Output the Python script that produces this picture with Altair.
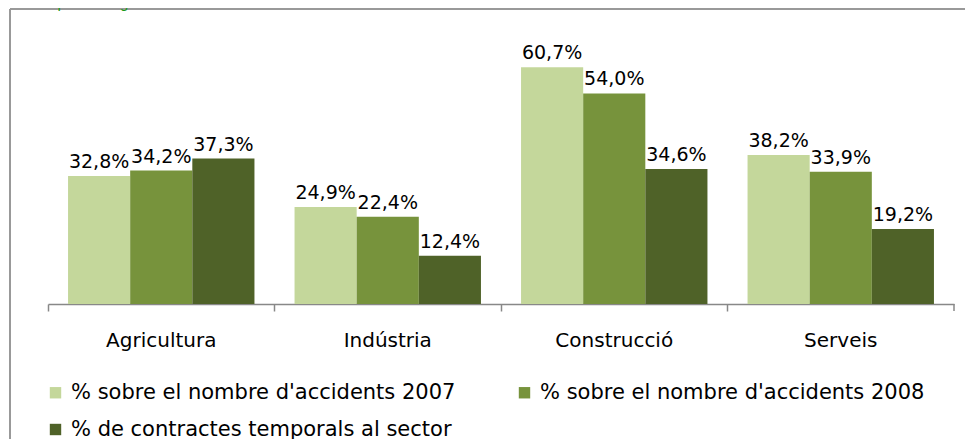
import altair as alt
import pandas as pd

categories = ["Agricultura", "Indústria", "Construcció", "Serveis"]
series = [
    "% sobre el nombre d'accidents 2007",
    "% sobre el nombre d'accidents 2008",
    "% de contractes temporals al sector",
]
v2007 = [32.8, 24.9, 60.7, 38.2]
v2008 = [34.2, 22.4, 54.0, 33.9]
vtemp = [37.3, 12.4, 34.6, 19.2]
colors = ["#c4d79b", "#77933c", "#4f6228"]
title_text = "Unitat: percentatges."

rows = []
for s, vals in zip(series, [v2007, v2008, vtemp]):
    for c, v in zip(categories, vals):
        rows.append({"cat": c, "serie": s, "val": v,
                     "lab": f"{v:.1f}".replace(".", ",") + "%"})
df = pd.DataFrame(rows)

W, H = 906, 273
FONT = "DejaVu Sans"

x_enc = alt.X("cat:N", sort=categories,
              scale=alt.Scale(paddingInner=0, paddingOuter=0),
              axis=alt.Axis(title=None, labelAngle=0, bandPosition=0,
                            domainColor="#888888",
                            tickColor="#888888", tickSize=7,
                            labelFont=FONT, labelFontSize=20,
                            labelColor="#000000", labelBaseline="alphabetic",
                            labelPadding=35, domainWidth=1.5, tickWidth=1.5))
xo_enc = alt.XOffset("serie:N", sort=series,
                     scale=alt.Scale(paddingInner=0, paddingOuter=0.3226))
y_enc = alt.Y("val:Q", scale=alt.Scale(domain=[0, 70]), axis=None)

base = alt.Chart(df)

bars = base.mark_bar().encode(
    x=x_enc, xOffset=xo_enc, y=y_enc,
    color=alt.Color("serie:N", sort=series,
                    scale=alt.Scale(domain=series, range=colors),
                    legend=alt.Legend(title=None, orient="none",
                                      legendX=-3, legendY=351,
                                      direction="horizontal", columns=2,
                                      symbolType="square", symbolSize=130,
                                      symbolStrokeWidth=0, labelOffset=5,
                                      labelFont=FONT, labelFontSize=21,
                                      labelColor="#000000", labelLimit=600,
                                      rowPadding=15, columnPadding=58,
                                      padding=0)),
)

labels = base.mark_text(font=FONT, fontSize=19, baseline="alphabetic",
                        dy=-8, color="#000000").encode(
    x=x_enc, xOffset=xo_enc, y=y_enc, text="lab:N")

end_tick = alt.Chart(pd.DataFrame({"k": [0]})).mark_rule(
    color="#888888", strokeWidth=1.5).encode(
    x=alt.value(W), y=alt.value(H), y2=alt.value(H + 7))

frame_top = alt.Chart(pd.DataFrame({"k": [0]})).mark_rule(
    color="#999999", strokeWidth=2).encode(
    x=alt.value(-38), x2=alt.value(940), y=alt.value(-22))
frame_left = alt.Chart(pd.DataFrame({"k": [0]})).mark_rule(
    color="#999999", strokeWidth=2).encode(
    x=alt.value(-38), y=alt.value(-22), y2=alt.value(430))

title = alt.Chart(pd.DataFrame({"t": [title_text]})).mark_text(
    font="Liberation Sans", fontSize=15, color="#1a9a1a", align="left",
    baseline="alphabetic").encode(
    x=alt.value(-38), y=alt.value(-23), text="t:N")

chart = alt.layer(frame_top, frame_left, title, bars, labels, end_tick).properties(
    width=W, height=H,
    autosize=alt.AutoSizeParams(type="none"),
    padding={"left": 40, "top": 23, "right": 11, "bottom": 135},
).configure_view(stroke=None)

chart.save("out.html", embed_options={"renderer": "svg", "actions": False})
